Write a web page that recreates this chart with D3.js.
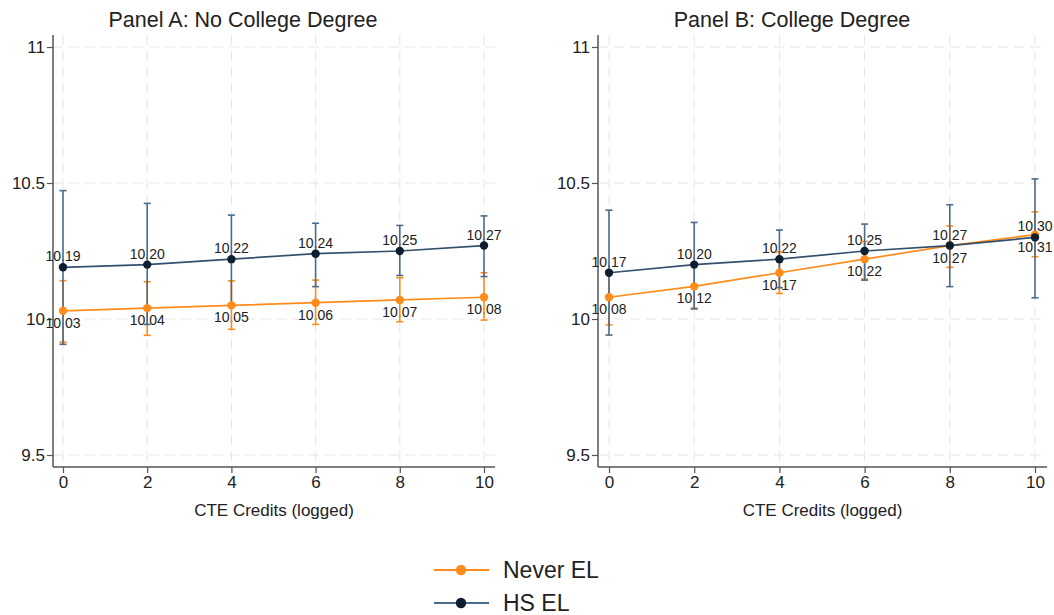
<!DOCTYPE html>
<html>
<head>
<meta charset="utf-8">
<script src="https://cdn.jsdelivr.net/npm/d3@7"></script>
<style>
  body { margin: 0; background: #fff; }
  svg { display: block; font-family: "Liberation Sans", Arial, sans-serif; }
</style>
</head>
<body>
<svg id="chart" width="1054" height="615"></svg>
<script>
// ---- data ----
const xCredits = [0, 2, 4, 6, 8, 10];
const xTicks = [0, 2, 4, 6, 8, 10];
const yTicks = [9.5, 10, 10.5, 11];
const panelTitles = ["Panel A: No College Degree", "Panel B: College Degree"];
const xAxisTitle = "CTE Credits (logged)";
const seriesNames = ["Never EL", "HS EL"];

// Panel A
const aNever    = [10.03, 10.04, 10.05, 10.06, 10.07, 10.08];
const aNeverLo  = [9.915, 9.94, 9.962, 9.98, 9.99, 9.996];
const aNeverHi  = [10.141, 10.137, 10.14, 10.143, 10.152, 10.17];
const aHs       = [10.19, 10.20, 10.22, 10.24, 10.25, 10.27];
const aHsLo     = [9.907, 9.98, 10.055, 10.119, 10.16, 10.156];
const aHsHi     = [10.472, 10.425, 10.382, 10.352, 10.344, 10.379];

// Panel B
const bNever    = [10.08, 10.12, 10.17, 10.22, 10.27, 10.31];
const bNeverLo  = [9.978, 10.04, 10.094, 10.147, 10.19, 10.229];
const bNeverHi  = [10.178, 10.205, 10.247, 10.285, 10.342, 10.394];
const bHs       = [10.17, 10.20, 10.22, 10.25, 10.27, 10.30];
const bHsLo     = [9.941, 10.037, 10.115, 10.143, 10.119, 10.078];
const bHsHi     = [10.40, 10.355, 10.327, 10.349, 10.42, 10.515];

// ---- styles ----
const C = {
  never: { line: "#ff8c1a", err: "#ff8c1a", marker: "#ff8c1a" },
  hs:    { line: "#34506e", err: "#4a6b8c", marker: "#0c1e30" }
};

const svg = d3.select("#chart");

const panels = [
  { title: panelTitles[0], titleX: 243, axisX: 53, x0: 63, x1: 484, right: 495,
    series: [
      { key: "never", v: aNever, lo: aNeverLo, hi: aNeverHi, pos: "below" },
      { key: "hs", v: aHs, lo: aHsLo, hi: aHsHi, pos: "above" } ] },
  { title: panelTitles[1], titleX: 792, axisX: 598, x0: 609, x1: 1035, right: 1047,
    series: [
      { key: "never", v: bNever, lo: bNeverLo, hi: bNeverHi, pos: "below" },
      { key: "hs", v: bHs, lo: bHsLo, hi: bHsHi, pos: "above" } ] }
];

const plotTop = 35, plotBottom = 467;

panels.forEach(p => {
  const x = d3.scaleLinear().domain([0, 10]).range([p.x0, p.x1]);
  const y = d3.scaleLinear().domain([9.5, 11]).range([455, 47]);
  const g = svg.append("g");

  // grid
  g.selectAll(".gy").data(yTicks).join("line")
    .attr("x1", p.axisX).attr("x2", p.right)
    .attr("y1", d => y(d)).attr("y2", d => y(d))
    .attr("stroke", "#e6e6e6").attr("stroke-width", 1).attr("stroke-dasharray", "10,6");
  g.selectAll(".gx").data(xTicks).join("line")
    .attr("x1", d => x(d)).attr("x2", d => x(d))
    .attr("y1", plotTop).attr("y2", plotBottom)
    .attr("stroke", "#e6e6e6").attr("stroke-width", 1).attr("stroke-dasharray", "10,6");

  // axes
  const yAxis = d3.axisLeft(y).tickValues(yTicks).tickSize(6).tickPadding(2)
    .tickFormat(d => d3.format("")(d));
  const ya = g.append("g").attr("transform", `translate(${p.axisX},0)`).call(yAxis);
  ya.select(".domain").attr("d", `M0,${plotTop}V${plotBottom}`);
  const xAxis = d3.axisBottom(x).tickValues(xTicks).tickSize(6).tickPadding(3);
  const xa = g.append("g").attr("transform", `translate(0,${plotBottom})`).call(xAxis);
  xa.select(".domain").attr("d", `M${p.axisX},0H${p.right}`);
  [ya, xa].forEach(a => {
    a.select(".domain").attr("stroke", "#555").attr("stroke-width", 1.5);
    a.selectAll(".tick line").attr("stroke", "#555").attr("stroke-width", 1.2);
    a.selectAll(".tick text").attr("fill", "#222").attr("font-size", 17)
      .attr("font-family", "Liberation Sans, Arial, sans-serif");
  });

  // title
  g.append("text").attr("x", p.titleX).attr("y", 27)
    .attr("text-anchor", "middle").attr("font-size", 21.5).attr("fill", "#222")
    .text(p.title);
  g.append("text").attr("x", (p.axisX + p.right) / 2).attr("y", 516)
    .attr("text-anchor", "middle").attr("font-size", 17).attr("fill", "#222")
    .text(xAxisTitle);

  // data labels (drawn beneath marks)
  p.series.forEach(s => {
    g.selectAll(null).data(xCredits).join("text")
      .attr("x", (d) => x(d))
      .attr("y", (d, i) => s.pos === "above" ? y(s.v[i]) - 6 : y(s.v[i]) + 17)
      .attr("text-anchor", "middle").attr("font-size", 14).attr("fill", "#222")
      .text((d, i) => d3.format(".2f")(s.v[i]));
  });

  // error bars
  p.series.forEach(s => {
    const col = C[s.key].err;
    const eb = g.append("g");
    eb.selectAll(null).data(xCredits).join("line")
      .attr("x1", d => x(d)).attr("x2", d => x(d))
      .attr("y1", (d, i) => y(s.lo[i])).attr("y2", (d, i) => y(s.hi[i]))
      .attr("stroke", col).attr("stroke-width", 1.6);
    ["lo", "hi"].forEach(k => {
      eb.selectAll(null).data(xCredits).join("line")
        .attr("x1", d => x(d) - 3.5).attr("x2", d => x(d) + 3.5)
        .attr("y1", (d, i) => y(s[k][i])).attr("y2", (d, i) => y(s[k][i]))
        .attr("stroke", col).attr("stroke-width", 1.6);
    });
  });

  // lines + markers
  p.series.forEach(s => {
    const line = d3.line().x(d => x(d[0])).y(d => y(d[1]));
    g.append("path").datum(xCredits.map((d, i) => [d, s.v[i]]))
      .attr("d", line).attr("fill", "none")
      .attr("stroke", C[s.key].line).attr("stroke-width", 1.7);
  });
  p.series.forEach(s => {
    g.selectAll(null).data(xCredits).join("circle")
      .attr("cx", d => x(d)).attr("cy", (d, i) => y(s.v[i])).attr("r", 4.2)
      .attr("fill", C[s.key].marker);
  });
});

// legend
const legend = svg.append("g");
const legItems = [{ name: seriesNames[0], key: "never", y: 570 }, { name: seriesNames[1], key: "hs", y: 603 }];
legItems.forEach(it => {
  legend.append("line").attr("x1", 434).attr("x2", 489).attr("y1", it.y).attr("y2", it.y)
    .attr("stroke", it.key === "hs" ? "#4a6b8c" : C[it.key].line)
    .attr("stroke-width", 2);
  legend.append("circle").attr("cx", 461).attr("cy", it.y).attr("r", 5.2)
    .attr("fill", C[it.key].marker);
  legend.append("text").attr("x", 503).attr("y", it.y).attr("dy", "0.35em")
    .attr("font-size", 23).attr("fill", "#222").text(it.name);
});
</script>
</body>
</html>
